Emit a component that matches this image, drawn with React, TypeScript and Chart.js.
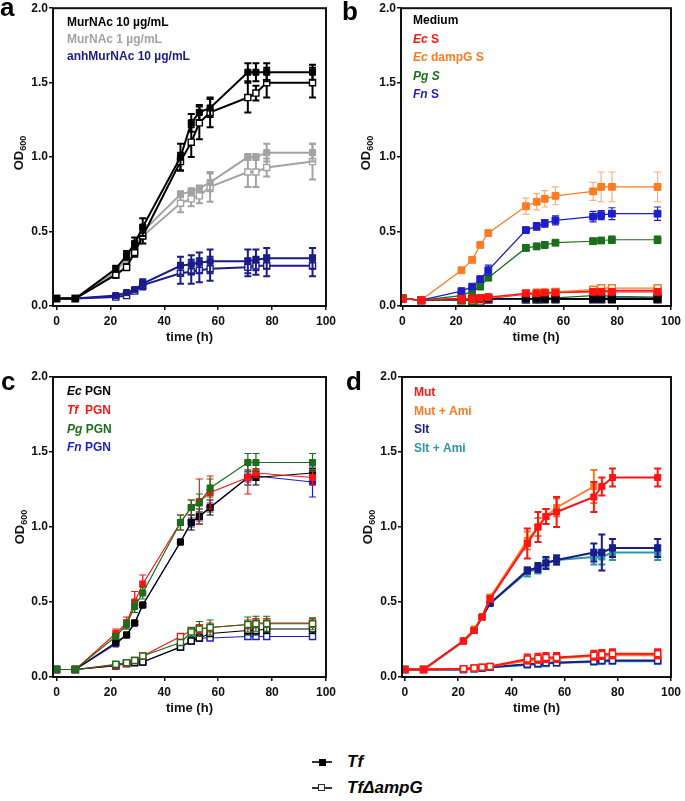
import React, { useEffect, useRef } from "react";
import { Chart, registerables } from "chart.js";
Chart.register(...registerables);

const FONT = '"Liberation Sans", Arial, Helvetica, sans-serif';

// ---------- shared axes ----------
const TIME = [0, 7, 22, 26, 29, 32, 46, 50, 53, 57, 71, 74, 78, 95];
const X_TICKS = [0, 20, 40, 60, 80, 100];
const Y_TICKS = [0, 0.5, 1.0, 1.5, 2.0];
const X_TITLE = "time (h)";
const Y_TITLE_MAIN = "OD";
const Y_TITLE_SUB = "600";

// ---------- colours ----------
const BLACK = "#000000";
const GRAY = "#a3a3a3";
const NAVY = "#1b1b8c";
const RED = "#ff1414";
const ORANGE = "#ff7a22";
const GREEN = "#1b6e1b";
const BLUE = "#1e1ec8";
const TEAL = "#2a97a9";

// ---------- panel a ----------
const A_MUR10_TF = [0.05, 0.05, 0.25, 0.34, 0.42, 0.53, 1.0, 1.23, 1.3, 1.33, 1.57, 1.57, 1.57, 1.57];
const A_MUR10_TF_ERR = [0, 0, 0.02, 0.03, 0.04, 0.06, 0.09, 0.06, 0.05, 0.06, 0.06, 0.06, 0.06, 0.05];
const A_MUR10_AMPG = [0.05, 0.05, 0.21, 0.26, 0.36, 0.47, 0.97, 1.1, 1.23, 1.3, 1.4, 1.43, 1.5, 1.5];
const A_MUR10_AMPG_ERR = [0, 0, 0.02, 0.02, 0.03, 0.05, 0.06, 0.1, 0.11, 0.1, 0.1, 0.05, 0.1, 0.1];
const A_MUR1_TF = [0.05, 0.05, 0.23, 0.32, 0.4, 0.5, 0.75, 0.77, 0.79, 0.83, 1.0, 1.0, 1.03, 1.03];
const A_MUR1_TF_ERR = [0, 0, 0.02, 0.02, 0.03, 0.04, 0.02, 0.02, 0.02, 0.06, 0.02, 0.02, 0.06, 0.06];
const A_MUR1_AMPG = [0.05, 0.05, 0.21, 0.27, 0.37, 0.47, 0.69, 0.72, 0.74, 0.8, 0.9, 0.9, 0.93, 0.97];
const A_MUR1_AMPG_ERR = [0, 0, 0.02, 0.02, 0.03, 0.05, 0.06, 0.05, 0.05, 0.1, 0.1, 0.1, 0.06, 0.12];
const A_ANH_TF = [0.05, 0.05, 0.07, 0.09, 0.11, 0.15, 0.27, 0.28, 0.29, 0.3, 0.3, 0.31, 0.32, 0.32];
const A_ANH_TF_ERR = [0, 0, 0.01, 0.01, 0.01, 0.03, 0.06, 0.06, 0.07, 0.08, 0.08, 0.07, 0.07, 0.07];
const A_ANH_AMPG = [0.05, 0.05, 0.06, 0.07, 0.1, 0.14, 0.22, 0.23, 0.24, 0.25, 0.26, 0.27, 0.27, 0.27];
const A_ANH_AMPG_ERR = [0, 0, 0.01, 0.01, 0.01, 0.03, 0.07, 0.08, 0.08, 0.08, 0.06, 0.06, 0.07, 0.07];

// ---------- panel b ----------
const B_MED_TF = [0.05, 0.04, 0.05, 0.05, 0.05, 0.05, 0.05, 0.05, 0.05, 0.05, 0.05, 0.05, 0.05, 0.05];
const B_MED_TF_ERR = [0, 0, 0.005, 0.005, 0.005, 0.005, 0.005, 0.005, 0.005, 0.005, 0.005, 0.005, 0.005, 0.005];
const B_MED_AMPG = [0.05, 0.04, 0.04, 0.04, 0.04, 0.045, 0.045, 0.045, 0.045, 0.045, 0.045, 0.045, 0.045, 0.045];
const B_MED_AMPG_ERR = [0, 0, 0.005, 0.005, 0.005, 0.005, 0.005, 0.005, 0.005, 0.005, 0.005, 0.005, 0.005, 0.005];
const B_ECS_TF = [0.05, 0.04, 0.05, 0.05, 0.055, 0.06, 0.085, 0.085, 0.09, 0.09, 0.095, 0.095, 0.095, 0.095];
const B_ECS_TF_ERR = [0, 0, 0.005, 0.005, 0.005, 0.005, 0.01, 0.01, 0.01, 0.01, 0.01, 0.01, 0.01, 0.01];
const B_ECS_AMPG = [0.05, 0.04, 0.045, 0.045, 0.045, 0.05, 0.08, 0.08, 0.085, 0.09, 0.1, 0.1, 0.105, 0.105];
const B_ECS_AMPG_ERR = [0, 0, 0.005, 0.005, 0.005, 0.005, 0.01, 0.01, 0.01, 0.01, 0.01, 0.01, 0.01, 0.01];
const B_ECD_TF = [0.05, 0.04, 0.24, 0.31, 0.41, 0.49, 0.67, 0.7, 0.72, 0.74, 0.77, 0.8, 0.8, 0.8];
const B_ECD_TF_ERR = [0, 0, 0.01, 0.01, 0.01, 0.01, 0.055, 0.055, 0.055, 0.06, 0.06, 0.1, 0.1, 0.1];
const B_ECD_AMPG = [0.05, 0.04, 0.05, 0.05, 0.05, 0.055, 0.085, 0.09, 0.09, 0.095, 0.11, 0.12, 0.12, 0.12];
const B_ECD_AMPG_ERR = [0, 0, 0.005, 0.005, 0.005, 0.005, 0.01, 0.01, 0.01, 0.01, 0.01, 0.01, 0.01, 0.01];
const B_PGS_TF = [0.05, 0.04, 0.07, 0.1, 0.13, 0.19, 0.39, 0.4, 0.41, 0.425, 0.435, 0.44, 0.445, 0.445];
const B_PGS_TF_ERR = [0, 0, 0.01, 0.01, 0.01, 0.015, 0.02, 0.02, 0.02, 0.015, 0.02, 0.02, 0.025, 0.025];
const B_PGS_AMPG = [0.05, 0.04, 0.04, 0.035, 0.03, 0.05, 0.05, 0.05, 0.055, 0.055, 0.07, 0.07, 0.065, 0.06];
const B_PGS_AMPG_ERR = [0, 0, 0.005, 0.005, 0.005, 0.005, 0.005, 0.005, 0.005, 0.005, 0.005, 0.005, 0.005, 0.005];
const B_FNS_TF = [0.05, 0.04, 0.1, 0.13, 0.18, 0.24, 0.51, 0.535, 0.555, 0.575, 0.6, 0.61, 0.62, 0.62];
const B_FNS_TF_ERR = [0, 0, 0.01, 0.01, 0.02, 0.035, 0.015, 0.025, 0.025, 0.03, 0.035, 0.03, 0.04, 0.045];
const B_FNS_AMPG = [0.05, 0.04, 0.04, 0.04, 0.04, 0.045, 0.045, 0.045, 0.05, 0.05, 0.05, 0.05, 0.055, 0.055];
const B_FNS_AMPG_ERR = [0, 0, 0.005, 0.005, 0.005, 0.005, 0.005, 0.005, 0.005, 0.005, 0.005, 0.005, 0.005, 0.005];

// ---------- panel c ----------
const C_EC_TF = [0.05, 0.05, 0.23, 0.28, 0.36, 0.48, 0.9, 1.03, 1.07, 1.13, 1.33, 1.33, null, 1.36];
const C_EC_TF_ERR = [0, 0, 0.01, 0.01, 0.01, 0.01, 0.01, 0.05, 0.05, 0.05, 0.05, 0.05, 0, 0.03];
const C_TF_TF = [0.05, 0.05, 0.29, 0.36, 0.5, 0.62, 1.03, 1.13, 1.17, 1.23, 1.33, 1.36, null, 1.33];
const C_TF_TF_ERR = [0, 0, 0.03, 0.04, 0.07, 0.06, 0.05, 0.05, 0.15, 0.11, 0.11, 0.03, 0, 0.05];
const C_PG_TF = [0.05, 0.05, 0.27, 0.35, 0.47, 0.56, 1.03, 1.13, 1.16, 1.26, 1.43, 1.43, null, 1.43];
const C_PG_TF_ERR = [0, 0, 0.02, 0.03, 0.04, 0.04, 0.05, 0.05, 0.06, 0.06, 0.06, 0.06, 0, 0.06];
const C_FN_TF = [0.05, 0.05, 0.22, 0.28, 0.36, 0.48, 0.9, 1.03, 1.07, 1.13, 1.33, 1.34, null, 1.3];
const C_FN_TF_ERR = [0, 0, 0.01, 0.01, 0.01, 0.01, 0.01, 0.03, 0.03, 0.03, 0.03, 0.03, 0, 0.1];
const C_EC_AMPG = [0.05, 0.05, 0.075, 0.09, 0.095, 0.1, 0.2, 0.24, 0.26, 0.29, 0.31, 0.31, 0.32, 0.32];
const C_EC_AMPG_ERR = [0, 0, 0.01, 0.01, 0.01, 0.01, 0.01, 0.01, 0.01, 0.02, 0.03, 0.03, 0.03, 0.03];
const C_TF_AMPG = [0.05, 0.05, 0.08, 0.09, 0.11, 0.14, 0.27, 0.31, 0.32, 0.33, 0.35, 0.36, 0.36, 0.36];
const C_TF_AMPG_ERR = [0, 0, 0.01, 0.01, 0.01, 0.01, 0.02, 0.02, 0.03, 0.03, 0.03, 0.03, 0.03, 0.03];
const C_PG_AMPG = [0.05, 0.05, 0.085, 0.095, 0.11, 0.14, 0.23, 0.3, 0.32, 0.33, 0.35, 0.355, 0.355, 0.355];
const C_PG_AMPG_ERR = [0, 0, 0.01, 0.01, 0.01, 0.01, 0.02, 0.03, 0.05, 0.05, 0.05, 0.05, 0.05, 0.04];
const C_FN_AMPG = [0.05, 0.05, 0.075, 0.09, 0.1, 0.1, 0.2, 0.24, 0.26, 0.26, 0.27, 0.27, 0.27, 0.27];
const C_FN_AMPG_ERR = [0, 0, 0.01, 0.01, 0.01, 0.01, 0.01, 0.01, 0.01, 0.01, 0.02, 0.02, 0.02, 0.02];

// ---------- panel d ----------
const D_MUT_TF = [0.05, 0.05, 0.24, 0.31, 0.4, 0.52, 0.89, 1.0, 1.07, 1.1, 1.2, 1.27, 1.33, 1.33];
const D_MUT_TF_ERR = [0, 0, 0.01, 0.01, 0.01, 0.02, 0.1, 0.1, 0.05, 0.1, 0.1, 0.06, 0.06, 0.06];
const D_MUTAMI_TF = [0.05, 0.05, 0.24, 0.32, 0.4, 0.53, 0.91, 1.0, 1.07, 1.13, 1.27, null, null, null];
const D_MUTAMI_TF_ERR = [0, 0, 0.01, 0.01, 0.01, 0.02, 0.06, 0.06, 0.05, 0.06, 0.11, 0, 0, 0];
const D_SLT_TF = [0.05, 0.05, 0.24, 0.31, 0.4, 0.49, 0.71, 0.73, 0.76, 0.78, 0.83, 0.83, 0.86, 0.86];
const D_SLT_TF_ERR = [0, 0, 0.01, 0.01, 0.01, 0.01, 0.02, 0.03, 0.04, 0.03, 0.06, 0.12, 0.06, 0.06];
const D_SLTAMI_TF = [0.05, 0.05, 0.24, 0.31, 0.4, 0.49, 0.7, 0.72, 0.76, 0.78, 0.8, 0.8, 0.83, 0.83];
const D_SLTAMI_TF_ERR = [0, 0, 0.01, 0.01, 0.01, 0.01, 0.03, 0.03, 0.03, 0.03, 0.05, 0.05, 0.05, 0.05];
const D_MUT_AMPG = [0.05, 0.05, 0.055, 0.06, 0.065, 0.07, 0.12, 0.125, 0.13, 0.13, 0.145, 0.15, 0.155, 0.155];
const D_MUT_AMPG_ERR = [0, 0, 0.01, 0.01, 0.01, 0.01, 0.03, 0.03, 0.03, 0.03, 0.03, 0.03, 0.03, 0.03];
const D_MUTAMI_AMPG = [0.05, 0.05, 0.055, 0.06, 0.065, 0.07, 0.11, 0.115, 0.12, 0.125, 0.14, 0.14, 0.145, 0.145];
const D_MUTAMI_AMPG_ERR = [0, 0, 0.01, 0.01, 0.01, 0.01, 0.02, 0.02, 0.02, 0.02, 0.02, 0.02, 0.02, 0.02];
const D_SLT_AMPG = [0.05, 0.05, 0.05, 0.055, 0.06, 0.065, 0.085, 0.09, 0.095, 0.095, 0.105, 0.11, 0.11, 0.11];
const D_SLT_AMPG_ERR = [0, 0, 0.005, 0.005, 0.005, 0.005, 0.01, 0.01, 0.01, 0.01, 0.01, 0.01, 0.01, 0.01];
const D_SLTAMI_AMPG = [0.05, 0.05, 0.05, 0.055, 0.06, 0.065, 0.08, 0.085, 0.09, 0.095, 0.1, 0.105, 0.105, 0.105];
const D_SLTAMI_AMPG_ERR = [0, 0, 0.005, 0.005, 0.005, 0.005, 0.01, 0.01, 0.01, 0.01, 0.01, 0.01, 0.01, 0.01];

// ---------- legends ----------
type Seg = { t: string; i?: boolean };
type LegendLine = { color: string; segs: Seg[] };
const A_LEGEND: LegendLine[] = [
  { color: BLACK, segs: [{ t: "MurNAc 10 µg/mL" }] },
  { color: GRAY, segs: [{ t: "MurNAc 1 µg/mL" }] },
  { color: NAVY, segs: [{ t: "anhMurNAc 10 µg/mL" }] },
];
const B_LEGEND: LegendLine[] = [
  { color: BLACK, segs: [{ t: "Medium" }] },
  { color: RED, segs: [{ t: "Ec", i: true }, { t: " S" }] },
  { color: ORANGE, segs: [{ t: "Ec", i: true }, { t: " dampG S" }] },
  { color: GREEN, segs: [{ t: "Pg S", i: true }] },
  { color: BLUE, segs: [{ t: "Fn", i: true }, { t: " S" }] },
];
const C_LEGEND: LegendLine[] = [
  { color: BLACK, segs: [{ t: "Ec", i: true }, { t: " PGN" }] },
  { color: RED, segs: [{ t: "Tf ", i: true }, { t: " PGN" }] },
  { color: GREEN, segs: [{ t: "Pg", i: true }, { t: " PGN" }] },
  { color: BLUE, segs: [{ t: "Fn", i: true }, { t: " PGN" }] },
];
const D_LEGEND: LegendLine[] = [
  { color: RED, segs: [{ t: "Mut" }] },
  { color: ORANGE, segs: [{ t: "Mut + Ami" }] },
  { color: NAVY, segs: [{ t: "Slt" }] },
  { color: TEAL, segs: [{ t: "Slt + Ami" }] },
];
const STRAIN_LABELS = ["Tf", "TfΔampG"];

// ---------- helpers ----------
function series(label: string, color: string, filled: boolean, vals: (number | null)[], errs: number[], lw: number, r: number, errColor?: string) {
  return {
    label,
    data: TIME.map((t, i) => ({ x: t, y: vals[i], e: errs[i] })).filter((p) => p.y !== null && p.y !== undefined),
    borderColor: color,
    backgroundColor: color,
    pointBackgroundColor: filled ? color : "#ffffff",
    pointBorderColor: color,
    pointStyle: "rect",
    pointRadius: r,
    pointBorderWidth: filled ? 1 : 1.4,
    borderWidth: lw,
    tension: 0,
    fill: false,
    errW: lw,
    errColor: errColor || color,
  };
}

const errorBars = {
  id: "errorBars",
  beforeDatasetDraw(chart: any, args: any) {
    const ds = chart.data.datasets[args.index];
    const meta = args.meta;
    const ys = chart.scales.y;
    const ctx = chart.ctx;
    ctx.save();
    ctx.strokeStyle = ds.errColor;
    ctx.lineWidth = ds.errW;
    const cap = 3.5;
    meta.data.forEach((pt: any, i: number) => {
      const raw = ds.data[i];
      if (!raw || !raw.e) return;
      const yt = ys.getPixelForValue(raw.y + raw.e);
      const yb = ys.getPixelForValue(Math.max(0, raw.y - raw.e));
      ctx.beginPath();
      ctx.moveTo(pt.x, yt);
      ctx.lineTo(pt.x, yb);
      ctx.moveTo(pt.x - cap, yt);
      ctx.lineTo(pt.x + cap, yt);
      ctx.moveTo(pt.x - cap, yb);
      ctx.lineTo(pt.x + cap, yb);
      ctx.stroke();
    });
    ctx.restore();
  },
};

type PanelProps = {
  box: { left: number; top: number; w: number; h: number };
  area: { l: number; r: number; t: number; b: number };
  xMin: number;
  letter: string;
  letterPos: [number, number];
  yTitlePos: [number, number];
  legend: LegendLine[];
  legendPos: [number, number, number];
  datasets: any[];
};

function Panel(p: PanelProps) {
  const ref = useRef<HTMLCanvasElement>(null);
  useEffect(() => {
    const { box, area } = p;
    const yW = area.l - box.left;
    const xH = box.top + box.h - area.b;
    const decor = {
      id: "decor",
      afterDraw(chart: any) {
        const ctx = chart.ctx;
        const ca = chart.chartArea;
        ctx.save();
        // frame
        ctx.strokeStyle = "#111";
        ctx.lineWidth = 2;
        ctx.strokeRect(ca.left, ca.top, ca.right - ca.left, ca.bottom - ca.top);
        // x title
        ctx.fillStyle = "#111";
        ctx.font = `bold 13px ${FONT}`;
        ctx.textAlign = "center";
        ctx.textBaseline = "middle";
        ctx.fillText(X_TITLE, (ca.left + ca.right) / 2, ca.bottom + 31);
        // y title
        ctx.save();
        ctx.translate(p.yTitlePos[0] - box.left, p.yTitlePos[1] - box.top);
        ctx.rotate(-Math.PI / 2);
        ctx.font = `bold 13px ${FONT}`;
        const w1 = ctx.measureText(Y_TITLE_MAIN).width;
        ctx.font = `bold 9px ${FONT}`;
        const w2 = ctx.measureText(Y_TITLE_SUB).width;
        const x0 = -(w1 + w2) / 2;
        ctx.textAlign = "left";
        ctx.textBaseline = "alphabetic";
        ctx.font = `bold 13px ${FONT}`;
        ctx.fillText(Y_TITLE_MAIN, x0, 4.5);
        ctx.font = `bold 9px ${FONT}`;
        ctx.fillText(Y_TITLE_SUB, x0 + w1, 8);
        ctx.restore();
        // legend
        ctx.textAlign = "left";
        ctx.textBaseline = "middle";
        p.legend.forEach((line, k) => {
          let x = p.legendPos[0] - box.left;
          const y = p.legendPos[1] + k * p.legendPos[2] - box.top;
          ctx.fillStyle = line.color;
          line.segs.forEach((s) => {
            ctx.font = `${s.i ? "italic " : ""}bold 12px ${FONT}`;
            ctx.fillText(s.t, x, y);
            x += ctx.measureText(s.t).width;
          });
        });
        // panel letter
        ctx.fillStyle = "#000";
        ctx.font = `bold 26px ${FONT}`;
        ctx.textBaseline = "alphabetic";
        ctx.fillText(p.letter, p.letterPos[0] - box.left, p.letterPos[1] - box.top);
        ctx.restore();
      },
    };
    const chart = new Chart(ref.current as HTMLCanvasElement, {
      type: "line",
      data: { datasets: p.datasets },
      plugins: [errorBars, decor],
      options: {
        animation: false,
        responsive: false,
        devicePixelRatio: 1,
        events: [],
        layout: { padding: { left: 0, top: area.t - box.top, right: box.left + box.w - area.r, bottom: 0 } },
        plugins: { legend: { display: false }, tooltip: { enabled: false } },
        scales: {
          x: {
            type: "linear",
            min: p.xMin,
            max: 100,
            afterBuildTicks: (s: any) => {
              s.ticks = X_TICKS.map((v) => ({ value: v }));
            },
            afterFit: (s: any) => {
              s.height = xH;
            },
            grid: { display: true, drawOnChartArea: false, drawTicks: true, tickLength: 4, color: "#111", lineWidth: 1.5 },
            border: { display: false },
            ticks: { color: "#111", font: { family: FONT, size: 12, weight: "bold" }, padding: 4, maxRotation: 0, autoSkip: false, callback: (v: any) => String(v) },
          },
          y: {
            type: "linear",
            min: 0,
            max: 2,
            afterBuildTicks: (s: any) => {
              s.ticks = Y_TICKS.map((v) => ({ value: v }));
            },
            afterFit: (s: any) => {
              s.width = yW;
            },
            grid: { display: true, drawOnChartArea: false, drawTicks: true, tickLength: 4, color: "#111", lineWidth: 1.5 },
            border: { display: false },
            ticks: { color: "#111", font: { family: FONT, size: 12, weight: "bold" }, padding: 1, callback: (v: any) => Number(v).toFixed(1) },
          },
        },
      } as any,
    });
    return () => chart.destroy();
  }, []);
  const { box } = p;
  return (
    <canvas
      ref={ref}
      width={box.w}
      height={box.h}
      style={{ position: "absolute", left: box.left, top: box.top, width: box.w, height: box.h }}
    />
  );
}

const ORANGE_ERR = "rgba(255,122,34,0.6)";

export default function App() {
  const aSets = [
    series("MurNAc 10 Tf", BLACK, true, A_MUR10_TF, A_MUR10_TF_ERR, 2, 4.3),
    series("MurNAc 10 TfΔampG", BLACK, false, A_MUR10_AMPG, A_MUR10_AMPG_ERR, 2, 4.3),
    series("MurNAc 1 Tf", GRAY, true, A_MUR1_TF, A_MUR1_TF_ERR, 2, 4.3),
    series("MurNAc 1 TfΔampG", GRAY, false, A_MUR1_AMPG, A_MUR1_AMPG_ERR, 2, 4.3),
    series("anhMurNAc Tf", NAVY, true, A_ANH_TF, A_ANH_TF_ERR, 2, 4.3),
    series("anhMurNAc TfΔampG", NAVY, false, A_ANH_AMPG, A_ANH_AMPG_ERR, 2, 4.3),
  ];
  const bSets = [
    series("Ec S Tf", RED, true, B_ECS_TF, B_ECS_TF_ERR, 1.2, 4.8),
    series("Ec dampG S Tf", ORANGE, true, B_ECD_TF, B_ECD_TF_ERR, 1.2, 4.8, ORANGE_ERR),
    series("Fn S Tf", BLUE, true, B_FNS_TF, B_FNS_TF_ERR, 1.2, 4.8),
    series("Pg S Tf", GREEN, true, B_PGS_TF, B_PGS_TF_ERR, 1.2, 4.8),
    series("Medium Tf", BLACK, true, B_MED_TF, B_MED_TF_ERR, 1.2, 4.8),
    series("Ec dampG S TfΔampG", ORANGE, false, B_ECD_AMPG, B_ECD_AMPG_ERR, 1.2, 4.8, ORANGE_ERR),
    series("Ec S TfΔampG", RED, false, B_ECS_AMPG, B_ECS_AMPG_ERR, 1.2, 4.8),
    series("Pg S TfΔampG", GREEN, false, B_PGS_AMPG, B_PGS_AMPG_ERR, 1.2, 4.8),
    series("Fn S TfΔampG", BLUE, false, B_FNS_AMPG, B_FNS_AMPG_ERR, 1.2, 4.8),
    series("Medium TfΔampG", BLACK, false, B_MED_AMPG, B_MED_AMPG_ERR, 1.2, 4.8),
  ];
  const cSets = [
    series("Pg PGN Tf", GREEN, true, C_PG_TF, C_PG_TF_ERR, 1.2, 4.3),
    series("Tf PGN Tf", RED, true, C_TF_TF, C_TF_TF_ERR, 1.2, 4.3),
    series("Ec PGN Tf", BLACK, true, C_EC_TF, C_EC_TF_ERR, 1.2, 4.3),
    series("Fn PGN Tf", BLUE, true, C_FN_TF, C_FN_TF_ERR, 1.2, 4.3),
    series("Pg PGN TfΔampG", GREEN, false, C_PG_AMPG, C_PG_AMPG_ERR, 1.2, 4.3),
    series("Tf PGN TfΔampG", RED, false, C_TF_AMPG, C_TF_AMPG_ERR, 1.2, 4.3),
    series("Ec PGN TfΔampG", BLACK, false, C_EC_AMPG, C_EC_AMPG_ERR, 1.2, 4.3),
    series("Fn PGN TfΔampG", BLUE, false, C_FN_AMPG, C_FN_AMPG_ERR, 1.2, 4.3),
  ];
  const dSets = [
    series("Mut Tf", RED, true, D_MUT_TF, D_MUT_TF_ERR, 2, 4.3),
    series("Mut + Ami Tf", ORANGE, true, D_MUTAMI_TF, D_MUTAMI_TF_ERR, 2, 4.3),
    series("Slt Tf", NAVY, true, D_SLT_TF, D_SLT_TF_ERR, 2, 4.3),
    series("Slt + Ami Tf", TEAL, true, D_SLTAMI_TF, D_SLTAMI_TF_ERR, 2, 4.3),
    series("Mut TfΔampG", RED, false, D_MUT_AMPG, D_MUT_AMPG_ERR, 2, 4.3),
    series("Mut + Ami TfΔampG", ORANGE, false, D_MUTAMI_AMPG, D_MUTAMI_AMPG_ERR, 2, 4.3),
    series("Slt TfΔampG", NAVY, false, D_SLT_AMPG, D_SLT_AMPG_ERR, 2, 4.3),
    series("Slt + Ami TfΔampG", TEAL, false, D_SLTAMI_AMPG, D_SLTAMI_AMPG_ERR, 2, 4.3),
  ];

  const legendText = { position: "absolute" as const, left: 347, fontFamily: FONT, fontWeight: "bold" as const, fontStyle: "italic" as const, fontSize: 17, lineHeight: "20px", color: "#000", whiteSpace: "nowrap" as const };

  return (
    <div style={{ position: "absolute", left: 0, top: 0, width: 685, height: 801, background: "#fff", overflow: "hidden" }}>
      <Panel box={{ left: 0, top: 0, w: 340, h: 350 }} area={{ l: 53, r: 326, t: 5, b: 306 }} xMin={-1.3} letter="a" letterPos={[0, 16]} yTitlePos={[18, 153]} legend={A_LEGEND} legendPos={[67, 23, 17]} datasets={aSets} />
      <Panel box={{ left: 340, top: 0, w: 345, h: 350 }} area={{ l: 401, r: 674, t: 5, b: 306 }} xMin={-0.5} letter="b" letterPos={[342, 20]} yTitlePos={[365, 153]} legend={B_LEGEND} legendPos={[413, 21, 18.5]} datasets={bSets} />
      <Panel box={{ left: 0, top: 350, w: 340, h: 370 }} area={{ l: 53, r: 326, t: 377, b: 677 }} xMin={-1.3} letter="c" letterPos={[1, 390]} yTitlePos={[19, 527]} legend={C_LEGEND} legendPos={[67, 392, 18.7]} datasets={cSets} />
      <Panel box={{ left: 340, top: 350, w: 345, h: 370 }} area={{ l: 402, r: 674, t: 377, b: 677 }} xMin={-1.1} letter="d" letterPos={[346, 390]} yTitlePos={[367, 527]} legend={D_LEGEND} legendPos={[414, 393, 18.5]} datasets={dSets} />

      {/* shared strain legend */}
      <div style={{ position: "absolute", left: 312, top: 761, width: 20, height: 1.5, background: "#333" }} />
      <div style={{ position: "absolute", left: 319, top: 759, width: 7, height: 7, background: "#000" }} />
      <div style={{ ...legendText, top: 752 }}>{STRAIN_LABELS[0]}</div>
      <div style={{ position: "absolute", left: 312, top: 787, width: 20, height: 1.5, background: "#333" }} />
      <div style={{ position: "absolute", left: 318, top: 784, width: 7, height: 7, background: "#fff", border: "1px solid #333", boxSizing: "border-box" as const }} />
      <div style={{ ...legendText, top: 778 }}>{STRAIN_LABELS[1]}</div>
    </div>
  );
}
